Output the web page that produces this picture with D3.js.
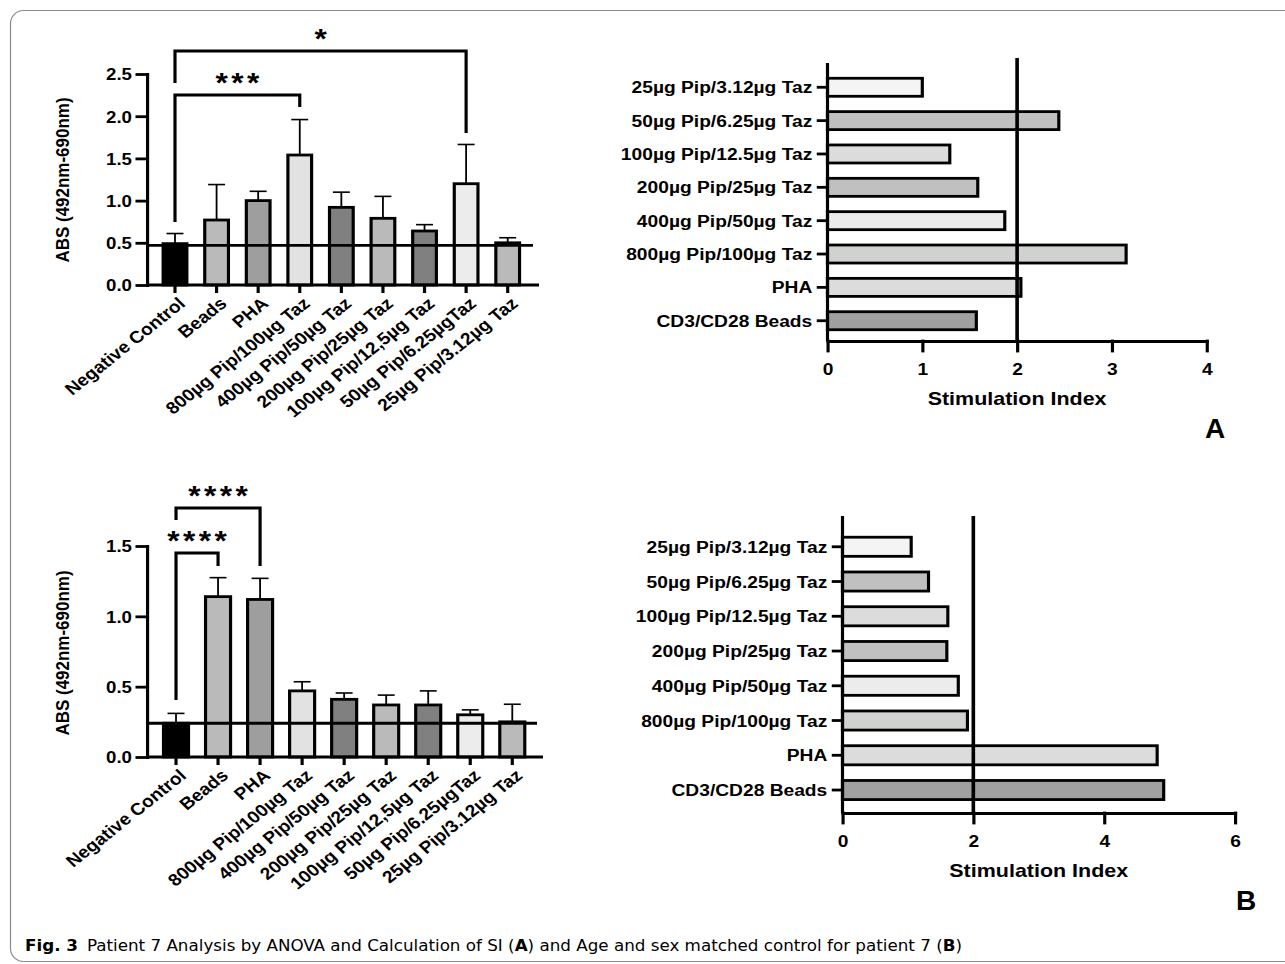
<!DOCTYPE html>
<html>
<head>
<meta charset="utf-8">
<script src="https://cdn.jsdelivr.net/npm/d3@7"></script>
<style>
  body { margin: 0; background: #fff; }
  svg text { font-family: "Liberation Sans", Arial, sans-serif; font-weight: bold; fill: #000; }
</style>
</head>
<body>
<div id="fig"></div>
<script>
// ---- data: absorbance panels (left) ----
const absCategories = ["Negative Control", "Beads", "PHA", "800µg Pip/100µg Taz", "400µg Pip/50µg Taz",
    "200µg Pip/25µg Taz", "100µg Pip/12,5µg Taz", "50µg Pip/6.25µgTaz", "25µg Pip/3.12µg Taz"]
const absFills = ["#000000", "#b9bab9", "#9d9e9d", "#e1e2e1", "#808080", "#b9bab9", "#808080", "#ececec", "#b9bab9"]

const absMeanA = [0.49, 0.77, 1.00, 1.54, 0.92, 0.79, 0.64, 1.20, 0.50]
const absSdA = [0.12, 0.42, 0.11, 0.42, 0.18, 0.26, 0.075, 0.465, 0.06]
const absBaseA = 0.47
const absTicksA = [0, 0.5, 1.0, 1.5, 2.0, 2.5]
const sigA = [["Negative Control", "800µg Pip/100µg Taz", "***"], ["Negative Control", "50µg Pip/6.25µgTaz", "*"]]

const absMeanB = [0.24, 1.14, 1.12, 0.47, 0.41, 0.37, 0.37, 0.30, 0.25]
const absSdB = [0.07, 0.135, 0.15, 0.065, 0.045, 0.07, 0.10, 0.035, 0.125]
const absBaseB = 0.24
const absTicksB = [0, 0.5, 1.0, 1.5]
const sigB = [["Negative Control", "Beads", "****"], ["Negative Control", "PHA", "****"]]

// ---- data: stimulation index panels (right), bottom row first ----
const siCategories = ["CD3/CD28 Beads", "PHA", "800µg Pip/100µg Taz", "400µg Pip/50µg Taz",
    "200µg Pip/25µg Taz", "100µg Pip/12.5µg Taz", "50µg Pip/6.25µg Taz", "25µg Pip/3.12µg Taz"]
const siFills = ["#a0a0a0", "#dcdcdc", "#d0d2d0", "#ececec", "#c0c0c0", "#dcdcdc", "#c0c0c0", "#f4f4f4"]
const siA = [1.57, 2.04, 3.15, 1.87, 1.585, 1.29, 2.44, 1.00]
const siB = [4.91, 4.81, 1.91, 1.77, 1.595, 1.61, 1.315, 1.05]
const siTicksA = [0, 1, 2, 3, 4]
const siTicksB = [0, 2, 4, 6]
const siCutoff = 2

const W = 1285, H = 964
const SX = 1.13   // source figure is stretched horizontally
const LW = 2.8

const svg = d3.select("#fig").append("svg").attr("width", W).attr("height", H)

svg.append("rect")
    .attr("x", 10.5).attr("y", 10.5).attr("width", 1320).attr("height", 951).attr("rx", 13)
    .attr("fill", "none").attr("stroke", "#8c8c8c").attr("stroke-width", 1.2)

function drawAbs(o) {
    const g = svg.append("g").attr("transform", `scale(${SX},1)`)
    const x = d3.scaleBand().domain(absCategories)
        .range([o.band[0] / SX, o.band[1] / SX])
        .paddingInner(o.pad).paddingOuter(o.pad / 2)
    const y = d3.scaleLinear().domain([0, o.yMax]).range([o.zeroY, o.topY])
    const cx = c => x(c) + x.bandwidth() / 2
    const rows = absCategories.map((c, i) => ({ c, m: o.mean[i], sd: o.sd[i], fill: absFills[i] }))

    // error bars (upper only)
    const eb = g.append("g").attr("stroke", "#000").attr("stroke-width", 1.6)
    rows.forEach(d => {
        eb.append("line").attr("x1", cx(d.c)).attr("x2", cx(d.c)).attr("y1", y(d.m)).attr("y2", y(d.m + d.sd))
        eb.append("line").attr("x1", cx(d.c) - 7.5).attr("x2", cx(d.c) + 7.5).attr("y1", y(d.m + d.sd)).attr("y2", y(d.m + d.sd))
    })

    g.selectAll("rect.bar").data(rows).enter().append("rect")
        .attr("class", "bar")
        .attr("x", d => x(d.c)).attr("width", x.bandwidth())
        .attr("y", d => y(d.m)).attr("height", d => y(0) - y(d.m))
        .attr("fill", d => d.fill).attr("stroke", "#000").attr("stroke-width", LW)

    // reference line at the negative control level
    g.append("line").attr("x1", o.axisL / SX).attr("x2", o.lineR / SX)
        .attr("y1", y(o.base)).attr("y2", y(o.base)).attr("stroke", "#000").attr("stroke-width", LW)

    // y axis
    const ya = g.append("g").attr("transform", `translate(${o.axisL / SX},0)`)
        .call(d3.axisLeft(y).tickValues(o.ticks).tickFormat(d3.format(".1f"))
            .tickSize(8.8).tickSizeOuter(0).tickPadding(4.5))
    ya.attr("font-family", null).attr("font-size", null)
    ya.selectAll("path,line").attr("stroke-width", LW).attr("stroke-linecap", "square")
    ya.selectAll("text").attr("font-size", 16.5).attr("dy", "0.36em")

    // x axis
    g.append("line").attr("x1", o.axisL / SX).attr("x2", o.axisR / SX)
        .attr("y1", y(0)).attr("y2", y(0)).attr("stroke", "#000").attr("stroke-width", LW)
    absCategories.forEach(c => {
        g.append("line").attr("x1", cx(c)).attr("x2", cx(c)).attr("y1", y(0)).attr("y2", y(0) + 8)
            .attr("stroke", "#000").attr("stroke-width", LW)
        g.append("text")
            .attr("transform", `translate(${cx(c) + 2},${y(0) + 11}) rotate(-42)`)
            .attr("text-anchor", "end").attr("dy", "0.71em").attr("font-size", 17)
            .text(c)
    })

    g.append("text")
        .attr("transform", `translate(${62 / SX},${o.titleY}) rotate(-90)`)
        .attr("text-anchor", "middle").attr("dy", "0.36em").attr("font-size", 17)
        .text("ABS (492nm-690nm)")

    // significance brackets
    o.sig.forEach((s, i) => {
        const b = o.brackets[i]
        const x1 = cx(s[0]), x2 = cx(s[1])
        g.append("path")
            .attr("d", `M${x1},${b.l} V${b.y} H${x2} V${b.r}`)
            .attr("fill", "none").attr("stroke", "#000").attr("stroke-width", LW)
        g.append("text")
            .attr("x", (x1 + x2) / 2 + 1.5).attr("y", b.y - 3)
            .attr("text-anchor", "middle").attr("font-size", 28).attr("letter-spacing", 3)
            .text(s[2])
    })
}

function drawSI(o) {
    const g = svg.append("g").attr("transform", `scale(${SX},1)`)
    const x = d3.scaleLinear().domain([0, o.xMax]).range([o.x0 / SX, o.x1 / SX])
    const y = d3.scaleBand().domain(siCategories).range([o.band[1], o.band[0]])
        .paddingInner(o.pad).paddingOuter(o.pad / 2)
    const rows = siCategories.map((c, i) => ({ c, v: o.values[i], fill: siFills[i] }))

    g.selectAll("rect.bar").data(rows).enter().append("rect")
        .attr("class", "bar")
        .attr("x", x(0)).attr("width", d => x(d.v) - x(0))
        .attr("y", d => y(d.c)).attr("height", y.bandwidth())
        .attr("fill", d => d.fill).attr("stroke", "#000").attr("stroke-width", LW)

    // cut-off line SI = 2
    g.append("line").attr("x1", x(siCutoff)).attr("x2", x(siCutoff))
        .attr("y1", o.lineTop).attr("y2", o.axisY).attr("stroke", "#000").attr("stroke-width", 3.2)

    // y axis
    g.append("line").attr("x1", x(0)).attr("x2", x(0)).attr("y1", o.axisTop).attr("y2", o.axisY)
        .attr("stroke", "#000").attr("stroke-width", LW)
    const ya = g.append("g").attr("transform", `translate(${x(0)},0)`)
        .call(d3.axisLeft(y).tickSize(9.5).tickPadding(4))
    ya.attr("font-family", null).attr("font-size", null)
    ya.select(".domain").remove()
    ya.selectAll("line").attr("stroke-width", LW)
    ya.selectAll("text").attr("font-size", 17).attr("dy", "0.36em")

    // x axis
    const xa = g.append("g").attr("transform", `translate(0,${o.axisY})`)
        .call(d3.axisBottom(x).tickValues(o.ticks).tickFormat(d3.format("d"))
            .tickSize(10).tickSizeOuter(0).tickPadding(12))
    xa.attr("font-family", null).attr("font-size", null)
    xa.selectAll("path,line").attr("stroke-width", LW).attr("stroke-linecap", "square")
    xa.selectAll("text").attr("font-size", 17)

    g.append("text")
        .attr("x", (o.x0 + o.x1) / 2 / SX).attr("y", o.axisY + 64)
        .attr("text-anchor", "middle").attr("font-size", 19)
        .text("Stimulation Index")

    svg.append("text").attr("x", o.letter[0]).attr("y", o.letter[1])
        .attr("text-anchor", "middle").attr("font-size", 28).text(o.letterText)
}

drawAbs({
    mean: absMeanA, sd: absSdA, base: absBaseA, ticks: absTicksA, yMax: 2.5,
    zeroY: 285, topY: 74, band: [154.2, 528.5], pad: 0.43,
    axisL: 147, axisR: 539, lineR: 533, titleY: 180,
    sig: sigA, brackets: [{ y: 95, l: 222, r: 107 }, { y: 51, l: 83, r: 133 }]
})

drawAbs({
    mean: absMeanB, sd: absSdB, base: absBaseB, ticks: absTicksB, yMax: 1.5,
    zeroY: 757, topY: 546, band: [155, 533.3], pad: 0.405,
    axisL: 147, axisR: 543, lineR: 537, titleY: 653,
    sig: sigB, brackets: [{ y: 553, l: 700, r: 566 }, { y: 508, l: 520, r: 566 }]
})

drawSI({
    values: siA, ticks: siTicksA, xMax: 4, x0: 827.5, x1: 1206.7,
    band: [70.6, 337.4], pad: 0.46, axisTop: 63, axisY: 341, lineTop: 58,
    letter: [1215, 438], letterText: "A"
})

drawSI({
    values: siB, ticks: siTicksB, xMax: 6, x0: 842.5, x1: 1235,
    band: [529.4, 807.4], pad: 0.45, axisTop: 516, axisY: 813, lineTop: 516,
    letter: [1246, 910], letterText: "B"
})

// caption
const cap = svg.append("text").attr("x", 25).attr("y", 951)
    .attr("font-size", 16.5).attr("fill", "#231f20")
    .style("font-family", '"Liberation Sans Narrow", "DejaVu Sans Condensed", sans-serif')
    .style("font-weight", "normal")
    .attr("textLength", 937).attr("lengthAdjust", "spacingAndGlyphs")
cap.append("tspan").style("font-weight", "bold").text("Fig. 3")
cap.append("tspan").attr("dx", 8).text("Patient 7 Analysis by ANOVA and Calculation of SI (")
cap.append("tspan").style("font-weight", "bold").text("A")
cap.append("tspan").text(") and Age and sex matched control for patient 7 (")
cap.append("tspan").style("font-weight", "bold").text("B")
cap.append("tspan").text(")")
</script>
</body>
</html>
